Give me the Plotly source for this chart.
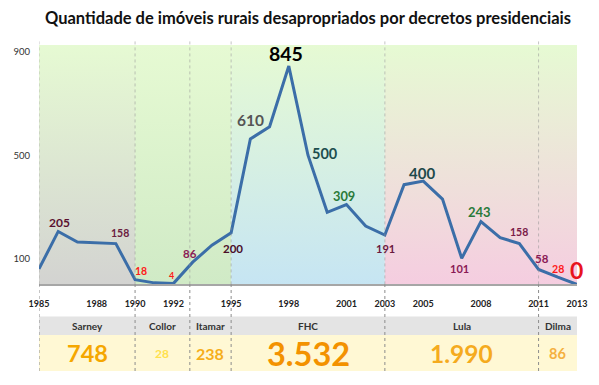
import plotly.graph_objects as go

# ---------------- data ----------------
years = list(range(1985, 2014))
values = [60, 205, 164, 161, 158, 18, 6, 4, 86, 152, 200, 563, 610, 845, 500,
          279, 309, 226, 191, 386, 400, 330, 101, 243, 181, 158, 58, 28, 0]

y_tick_vals = [100, 500, 900]
x_tick_vals = [1985, 1988, 1990, 1992, 1995, 1998, 2001, 2003, 2005, 2008, 2011, 2013]

presidents = ["Sarney", "Collor", "Itamar", "FHC", "Lula", "Dilma"]
term_start = [1985, 1990, 1992.85, 1995, 2003, 2011]
term_end = [1990, 1992.85, 1995, 2003, 2011, 2013]
totals = ["748", "28", "238", "3.532", "1.990", "86"]

# background eras (start, end)
era_start = [1985, 1990, 1995, 2003]
era_end = [1990, 1995, 2003, 2013]

# labelled points
label_years = [1986, 1989, 1990, 1992, 1993, 1995, 1997, 1998, 1999, 2001,
               2003, 2005, 2007, 2008, 2010, 2011, 2012, 2013]

# ---------------- styles ----------------
FONT = "Lato"
Y_TOP = 926.5
era_bottom_colors = ["#d3d3d1", "#d0eac6", "#c6e5f3", "#f5cde0"]
era_top_color = "#e6fad3"

# per-label style: (xshift, yshift, size, color, bold)
label_style = {
    1986: (1, 9, 12, "#5a1030", True),
    1989: (4, 11, 10.5, "#6b2040", True),
    1990: (6, 9, 10.5, "#ff1a1a", True),
    1992: (-2, 8, 9, "#ff1a1a", True),
    1993: (-3, 9, 11.5, "#8a1a55", True),
    1995: (2, -16, 11.5, "#4a0e28", True),
    1997: (-19, 7, 15.5, "#555555", True),
    1998: (-3, 13, 19.5, "#000000", True),
    1999: (17, 2, 14.5, "#1d4e4e", True),
    2001: (-2, 9, 12.8, "#2a7a3a", True),
    2003: (1, -13, 11, "#6a1a40", True),
    2005: (-1, 8, 15, "#1e4a4a", True),
    2007: (-2, -10, 11, "#8a1a55", True),
    2008: (-1, 10, 13, "#2a7a3a", True),
    2010: (0, 11.5, 10.5, "#7a1a48", True),
    2011: (3, 11, 11.5, "#8a1a55", True),
    2012: (0, 8.5, 10.6, "#ff1a1a", True),
    2013: (-1, 14, 23, "#e8141e", True),
}
total_style = [  # size, color
    (23.5, "#f5a700"),
    (12, "#ffe14d"),
    (16, "#f6ae1a"),
    (32.5, "#f39200"),
    (24.5, "#f5ab1e"),
    (14.5, "#f5b040"),
]

PLOT_BOTTOM = 0.2656   # paper y of the chart baseline
ROW_SPLIT = 0.1104
HEADER_TOP = 0.1672

fig = go.Figure()

# gradient backgrounds
for s, e, bc in zip(era_start, era_end, era_bottom_colors):
    fig.add_trace(go.Scatter(
        x=[s, e, e, s, s], y=[0, 0, Y_TOP, Y_TOP, 0],
        mode="none", fill="toself",
        fillgradient=dict(type="vertical", colorscale=[[0, bc], [1, era_top_color]]),
        hoverinfo="skip", showlegend=False))

# main line
fig.add_trace(go.Scatter(
    x=years, y=values, mode="lines",
    line=dict(color="#3b6ea8", width=3),
    showlegend=False, hoverinfo="x+y"))

shapes = []
annotations = []

# table rows
shapes.append(dict(type="rect", xref="x", yref="paper", x0=1985, x1=2013,
                   y0=ROW_SPLIT, y1=HEADER_TOP, fillcolor="#e4e4e4",
                   line=dict(width=0), layer="below"))
shapes.append(dict(type="rect", xref="x", yref="paper", x0=1985, x1=2013,
                   y0=0, y1=ROW_SPLIT, fillcolor="#fff8d4",
                   line=dict(width=0), layer="below"))

# dashed term boundaries
for b in term_start:
    shapes.append(dict(type="line", xref="x", yref="paper", x0=b, x1=b,
                       y0=PLOT_BOTTOM, y1=1.02,
                       line=dict(color="rgba(150,150,150,0.55)", width=1, dash="3px,3px"),
                       layer="above"))
    shapes.append(dict(type="line", xref="x", yref="paper", x0=b, x1=b,
                       y0=0, y1=PLOT_BOTTOM,
                       line=dict(color="#8c8c8c", width=1, dash="3px,3px"),
                       layer="above"))

# table texts
for name, s, e, tot, (sz, col) in zip(presidents, term_start, term_end, totals, total_style):
    xc = (s + e) / 2
    annotations.append(dict(x=xc, y=(ROW_SPLIT + HEADER_TOP) / 2, xref="x", yref="paper",
                            xanchor="center", yanchor="middle",
                            text=name, showarrow=False,
                            font=dict(family=FONT, size=10, color="#333333", weight="bold")))
    annotations.append(dict(x=xc, y=ROW_SPLIT / 2, xref="x", yref="paper",
                            xanchor="center", yanchor="middle",
                            text=tot, showarrow=False,
                            font=dict(family=FONT, size=sz, color=col, weight="bold")))

# data labels
for yr in label_years:
    v = values[years.index(yr)]
    dx, dy, sz, col, bold = label_style[yr]
    annotations.append(dict(x=yr, y=v, xref="x", yref="y", text=str(v),
                            xanchor="center", yanchor="middle",
                            showarrow=False, xshift=dx, yshift=dy,
                            font=dict(family=FONT, size=sz, color=col,
                                      weight="bold" if bold else "normal")))

fig.update_layout(
    width=599, height=385,
    margin=dict(l=38.5, r=18, t=45, b=14),
    paper_bgcolor="white", plot_bgcolor="white",
    title=dict(text="Quantidade de imóveis rurais desapropriados por decretos presidenciais",
               x=0.5, xref="paper", y=1 - 18 / 385, yref="container",
               xanchor="center", yanchor="middle",
               font=dict(family=FONT, size=16.5, color="#111111", weight="bold")),
    xaxis=dict(range=[1985, 2013], tickvals=x_tick_vals, ticktext=[str(t) for t in x_tick_vals],
               showgrid=False, zeroline=False, showline=True, linecolor="#a6a6a6", linewidth=2,
               ticks="", ticklabelstandoff=10,
               tickfont=dict(family=FONT, size=9, color="#222222", weight="bold")),
    yaxis=dict(domain=[PLOT_BOTTOM, 1], range=[0, Y_TOP], tickvals=y_tick_vals,
               showgrid=False, zeroline=False, showline=False, ticks="",
               ticklabelstandoff=8,
               tickfont=dict(family=FONT, size=9.5, color="#333333")),
    shapes=shapes, annotations=annotations,
    hovermode="closest",
)

fig.write_html("out.html", config={"displayModeBar": False},
               post_script="document.body.style.margin='0';document.body.style.padding='0';")
